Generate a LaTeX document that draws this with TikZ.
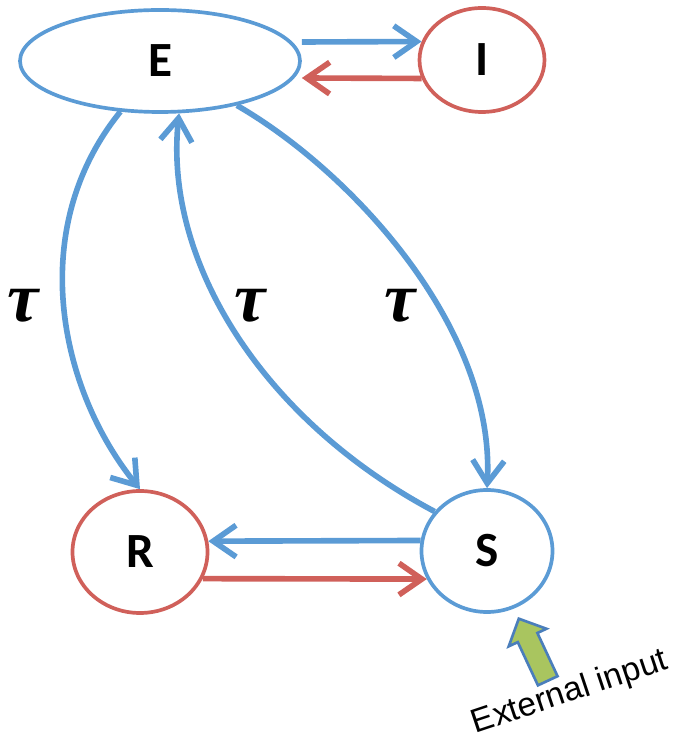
\documentclass[tikz,border=0pt]{standalone}
\usepackage{amsmath,amssymb}
\usepackage{fontspec}
\setmainfont{Carlito}
\newfontfamily\inputfont{Liberation Sans}
\newfontfamily\taufont{Liberation Serif}
\usetikzlibrary{arrows.meta,shapes.geometric,shapes.arrows}
\definecolor{stblue}{HTML}{5B9BD5}
\definecolor{stred}{HTML}{D0605A}
\definecolor{extfill}{HTML}{A9C55F}
\definecolor{extline}{HTML}{4A7EBB}
\tikzset{
  state/.style={draw=#1, ellipse, line width=2.1pt, inner sep=0pt, font=\fontsize{28}{32}\selectfont\bfseries},
  flow/.style={draw=#1, -{Straight Barb[length=13pt,width=18pt]}, line width=3.2pt},
  rate/.style={font=\taufont\fontsize{40}{44}\selectfont\bfseries\itshape},
  extarrow/.style={single arrow, draw=extline, fill=extfill, line width=1.5pt, inner sep=0.19cm,
               minimum height=1.37cm, minimum width=0.8cm, single arrow head extend=0.2cm},
  extlabel/.style={font=\inputfont\fontsize{19}{22}\selectfont, inner sep=0pt},
}
\begin{document}
\begin{tikzpicture}
  \useasboundingbox (0,0) rectangle (13.7,14.92);
  % states
  \node[state=stblue, minimum width=5.6cm, minimum height=2.04cm] (E) at (3.2,13.7) {E};
  \node[state=stred, minimum width=2.5cm, minimum height=2.08cm] (I) at (9.64,13.72) {I};
  \node[state=stred, minimum width=2.7cm, minimum height=2.44cm] (R) at (2.8,3.88) {R};
  \node[state=stblue, minimum width=2.62cm, minimum height=2.44cm] (S) at (9.74,3.9) {S};
  % transitions
  \draw[flow=stblue] ([yshift=3.8mm]E.east) -- (I.163);
  \draw[flow=stred] (I.197) -- ([yshift=-3.4mm]E.east);
  \draw[flow=stblue] (S.171) -- (R.9);
  \draw[flow=stred] (R.-23) -- (S.205);
  \draw[flow=stblue] (E.232) .. controls +(-129:3.03cm) and +(129:2.56cm) .. (R.north);
  \draw[flow=stblue] (S.143) .. controls +(152:3.9cm) and +(-96:2.98cm) .. (E.290);
  \draw[flow=stblue] (E.-30) .. controls +(-30:2.67cm) and +(87:3.2cm) .. (S.north);
  \node[rate] (tauER) at (0.46,8.8) {τ};
  \node[rate] (tauSE) at (5.0,8.8) {τ};
  \node[rate] (tauES) at (8.0,8.8) {τ};
  % external input
  \node[extarrow, rotate=115, anchor=tip] (ext) at (10.36,2.58) {};
  \node[extlabel, rotate=18.5] (extin) at (11.4,1.06) {External input};
\end{tikzpicture}
\end{document}
